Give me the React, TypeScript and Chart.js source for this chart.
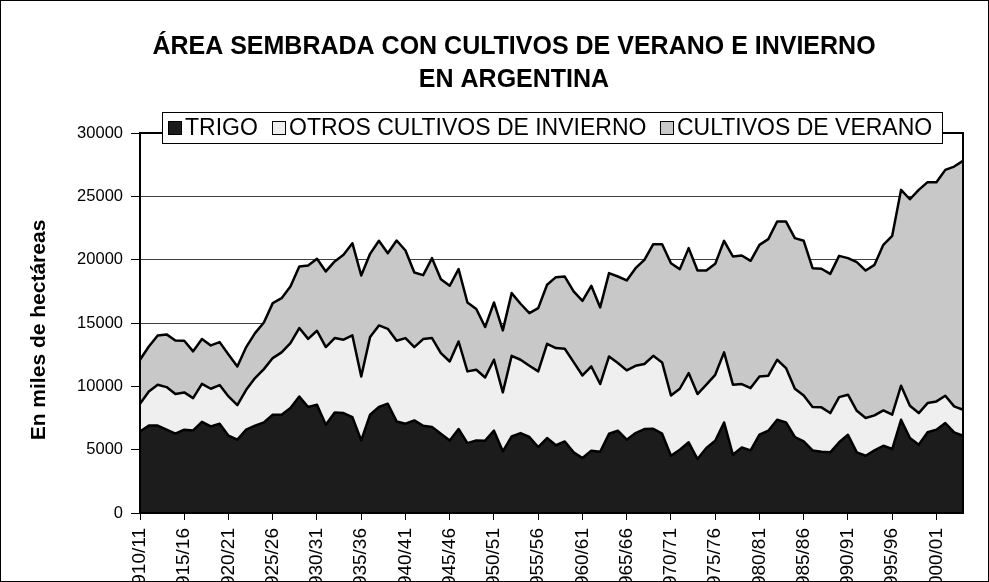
import React, { useEffect, useRef } from "react";
import { Chart, registerables } from "chart.js";
Chart.register(...registerables);

const FONT = '"Liberation Sans", Arial, sans-serif';

const seasons = [
  "1910/11","1911/12","1912/13","1913/14","1914/15","1915/16","1916/17","1917/18","1918/19","1919/20",
  "1920/21","1921/22","1922/23","1923/24","1924/25","1925/26","1926/27","1927/28","1928/29","1929/30",
  "1930/31","1931/32","1932/33","1933/34","1934/35","1935/36","1936/37","1937/38","1938/39","1939/40",
  "1940/41","1941/42","1942/43","1943/44","1944/45","1945/46","1946/47","1947/48","1948/49","1949/50",
  "1950/51","1951/52","1952/53","1953/54","1954/55","1955/56","1956/57","1957/58","1958/59","1959/60",
  "1960/61","1961/62","1962/63","1963/64","1964/65","1965/66","1966/67","1967/68","1968/69","1969/70",
  "1970/71","1971/72","1972/73","1973/74","1974/75","1975/76","1976/77","1977/78","1978/79","1979/80",
  "1980/81","1981/82","1982/83","1983/84","1984/85","1985/86","1986/87","1987/88","1988/89","1989/90",
  "1990/91","1991/92","1992/93","1993/94","1994/95","1995/96","1996/97","1997/98","1998/99","1999/00",
  "2000/01","2001/02","2002/03","2003/04"
];

const trigo = [
  6440,6900,6900,6580,6260,6580,6520,7200,6840,7050,
  6100,5790,6580,6900,7150,7760,7760,8280,9200,8370,
  8550,6970,7940,7890,7570,5730,7760,8370,8630,7230,
  7050,7310,6890,6790,6260,5730,6630,5520,5730,5710,
  6500,4870,6050,6310,6000,5210,5920,5350,5650,4790,
  4340,4920,4840,6260,6500,5790,6310,6630,6650,6260,
  4520,5000,5580,4260,5130,5710,7150,4600,5180,4940,
  6180,6500,7360,7150,6000,5650,4940,4840,4790,5580,
  6180,4790,4520,4940,5310,5050,7360,5920,5390,6370,
  6580,7100,6370,6100
];

const otrosInvierno = [
  2190,2700,3230,3360,3130,2940,2550,3000,2970,3050,
  3100,2730,3150,3750,4210,4470,4920,5130,5400,5380,
  5840,6130,5870,5790,6450,5050,6130,6440,5910,6370,
  6760,5790,6840,7020,6360,6230,6910,5660,5580,4990,
  5600,4650,6360,5790,5620,5970,7440,7670,7320,7120,
  6520,6650,5340,6100,5340,5470,5310,5130,5760,5630,
  4760,4810,5470,5130,5000,5200,5530,5530,5000,4920,
  4600,4340,4740,4290,3810,3630,3420,3500,3100,3570,
  3160,3280,2980,2770,2790,2710,2690,2550,2500,2310,
  2230,2160,2050,2050
];

const verano = [
  3470,3550,3890,4160,4230,4080,3690,3530,3420,3390,
  3320,3050,3370,3550,3680,4340,4280,4470,4860,5790,
  5680,5970,6050,6700,7280,7970,6570,6680,5970,7910,
  6910,5890,5050,6310,5840,5980,5710,5440,4790,3980,
  4520,4900,4950,4420,4160,4990,4660,5600,5700,5580,
  5890,6370,6050,6580,6830,7100,7710,8230,8810,9330,
  10440,9440,9860,9750,9010,8760,8810,10120,10150,10050,
  10390,10780,10910,11570,11890,12210,10970,10940,10990,11150,
  10780,11730,11640,11880,13070,14120,15460,16300,17620,17440,
  17310,17830,18930,19650
];

const seriesNames = ["TRIGO", "OTROS CULTIVOS DE INVIERNO", "CULTIVOS DE VERANO"];
const seriesColors = ["#1c1c1c", "#efefef", "#c8c8c8"];
const titleLines = ["ÁREA SEMBRADA CON CULTIVOS DE VERANO E INVIERNO", "EN ARGENTINA"];
const yTitle = "En miles de hectáreas";

export default function App() {
  const ref = useRef<HTMLCanvasElement>(null);
  useEffect(() => {
    document.body.style.margin = "0";
    const overlay = {
      id: "overlay",
      afterDraw(chart: any) {
        const ctx = chart.ctx as CanvasRenderingContext2D;
        const { left, right, top, bottom } = chart.chartArea;
        ctx.save();
        // plot box
        ctx.strokeStyle = "#000";
        ctx.lineWidth = 2;
        ctx.strokeRect(left, top, right - left, bottom - top);
        // legend box
        const lx = 162.5, ly = 112.5, lw = 780, lh = 31;
        ctx.fillStyle = "#fff";
        ctx.fillRect(lx, ly, lw, lh);
        ctx.lineWidth = 1;
        ctx.strokeStyle = "#000";
        ctx.strokeRect(lx, ly, lw, lh);
        const swX = [168, 272, 660];
        ctx.font = `23px ${FONT}`;
        ctx.textBaseline = "middle";
        ctx.textAlign = "left";
        for (let i = 0; i < 3; i++) {
          ctx.fillStyle = seriesColors[i];
          ctx.fillRect(swX[i] + 0.5, 121.5, 13, 13);
          ctx.strokeStyle = "#000";
          ctx.strokeRect(swX[i] + 0.5, 121.5, 13, 13);
          ctx.fillStyle = "#000";
          ctx.fillText(seriesNames[i], swX[i] + 17, 129);
        }
        // title
        ctx.font = `bold 25px ${FONT}`;
        ctx.textAlign = "center";
        ctx.fillStyle = "#000";
        ctx.fillText(titleLines[0], 514, 47);
        ctx.fillText(titleLines[1], 514, 80);
        // y title
        ctx.save();
        ctx.translate(39, 330);
        ctx.rotate(-Math.PI / 2);
        ctx.font = `bold 21px ${FONT}`;
        ctx.textAlign = "center";
        ctx.fillText(yTitle, 0, 0);
        ctx.restore();
        // outer frame
        ctx.lineWidth = 1;
        ctx.strokeRect(0.5, 0.5, 988, 581);
        ctx.restore();
      },
    };
    const mk = (i: number, data: number[], fill: any) => ({
      label: seriesNames[i],
      data,
      backgroundColor: seriesColors[i],
      borderColor: "#000",
      borderWidth: 2.5,
      borderJoinStyle: "round" as const,
      pointRadius: 0,
      tension: 0,
      fill,
    });
    const chart = new Chart(ref.current!, {
      type: "line",
      data: {
        labels: seasons,
        datasets: [mk(0, trigo, "origin"), mk(1, otrosInvierno, "-1"), mk(2, verano, "-1")],
      },
      options: {
        responsive: false,
        animation: false,
        layout: { padding: { top: 133, right: 26, left: 0, bottom: 0 } },
        plugins: {
          legend: { display: false },
          title: { display: false },
          tooltip: { enabled: false },
        },
        scales: {
          x: {
            offset: false,
            grid: { drawOnChartArea: false, tickLength: 7, color: "#000" },
            border: { color: "#000", width: 2 },
            ticks: {
              autoSkip: false,
              maxRotation: 90,
              minRotation: 90,
              padding: 8,
              color: "#000",
              font: { family: FONT, size: 19 },
              callback: (_v: any, i: number) => (i % 5 === 0 ? seasons[i] : null),
            },
            afterFit: (s: any) => { s.height = 69; },
          },
          y: {
            stacked: true,
            min: 0,
            max: 30000,
            ticks: {
              stepSize: 5000,
              color: "#000",
              padding: 8,
              font: { family: FONT, size: 16.5 },
              callback: (v: any) => String(v),
            },
            grid: { color: "#404040", lineWidth: 1, tickLength: 9, tickColor: "#000" },
            border: { color: "#000", width: 2 },
            afterFit: (s: any) => { s.width = 140; },
          },
        },
      },
      plugins: [overlay],
    });
    return () => chart.destroy();
  }, []);
  return (
    <canvas
      ref={ref}
      width={989}
      height={582}
      style={{ display: "block", width: 989, height: 582 }}
    />
  );
}
